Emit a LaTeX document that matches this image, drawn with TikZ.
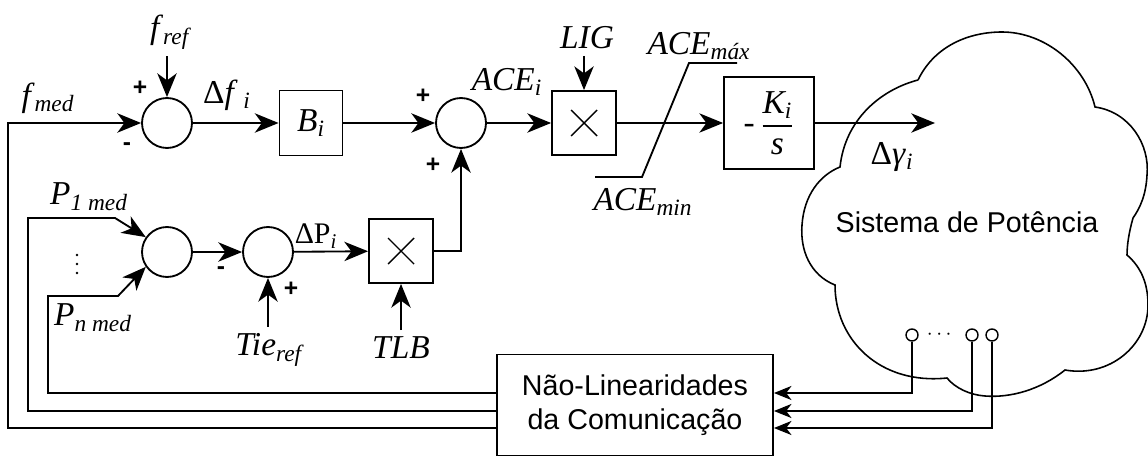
\documentclass[tikz,border=0pt]{standalone}
\usepackage{fontspec}
\setmainfont{Liberation Serif}
\setsansfont{Liberation Sans}
\usepackage{amsmath}
\usetikzlibrary{arrows.meta,positioning}

\newcommand{\sublab}[2]{\textit{#1}\textsubscript{\textit{#2}}}

\begin{document}
\begin{tikzpicture}[
  x=0.02cm, y=-0.02cm,
  line width=1.05pt,
  font=\fontsize{19}{22}\selectfont,
  sumnode/.style={draw, circle, minimum size=1cm, inner sep=0pt},
  blockbox/.style={draw, rectangle, minimum width=1.26cm, minimum height=1.3cm, inner sep=0pt},
  multbox/.style={draw, rectangle, minimum size=1.28cm, inner sep=0pt,
    path picture={\draw[line width=0.8pt] (path picture bounding box.center) +(-13,-13) -- +(13,13)
      (path picture bounding box.center) +(-13,13) -- +(13,-13);}},
  term/.style={draw, circle, fill=white, minimum size=0.24cm, inner sep=0pt, line width=0.8pt},
  sgn/.style={font=\sffamily\bfseries\fontsize{14}{14}\selectfont, inner sep=0pt},
  sansbig/.style={font=\sffamily\fontsize{16.3}{19.3}\selectfont, align=center},
  sig/.style={-{Stealth[length=13.5pt,width=11pt,inset=4pt]}},
  sigs/.style={-{Stealth[length=10pt,width=8pt,inset=3pt]}}
]
\useasboundingbox (0,0) rectangle (1148,456);

% blocos principais
\node[sumnode] (sum1) at (167,123) {};
\node[blockbox] (bias) at (311,123) {\sublab{B}{i}};
\node[sumnode] (sum2) at (461,123) {};
\node[multbox] (lig) at (584,123) {};
\node[blockbox, minimum width=1.8cm, minimum height=1.84cm] (integ) at (769,123)
  {-\,$\dfrac{\textit{K}_{\textit{i}}}{\textit{s}}$};
\node[sumnode] (sum3) at (167,252) {};
\node[sumnode] (sum4) at (268,252) {};
\node[multbox] (tlb) at (401,251) {};
\node[draw, sansbig, minimum width=5.52cm, minimum height=2.02cm] (nl) at (635,405)
  {Não-Linearidades\\da Comunicação};

% sistema de potencia
\draw[line width=0.9pt] (918,80) .. controls (935,45) and (970,32) .. (1002,32)
  .. controls (1045,32) and (1085,65) .. (1095,107)
  .. controls (1130,112) and (1150,145) .. (1147,175)
  .. controls (1146,195) and (1140,208) .. (1133,218)
  .. controls (1129,232) and (1127,245) .. (1127,255)
  .. controls (1142,268) and (1148,285) .. (1148,305)
  .. controls (1148,345) and (1110,378) .. (1065,370)
  .. controls (1040,390) and (1010,398) .. (985,396)
  .. controls (970,395) and (955,388) .. (947,378)
  .. controls (880,385) and (835,340) .. (835,285)
  .. controls (810,275) and (800,250) .. (802,225)
  .. controls (804,195) and (820,175) .. (840,167)
  .. controls (845,120) and (880,90) .. (918,80);
\node[sansbig] (sys) at (967,222) {Sistema de Potência};
\node[term] (t1) at (912,335) {};
\node[term] (t2) at (972,335) {};
\node[term] (t3) at (992,335) {};
\node[font=\fontsize{13}{13}\selectfont] (tdots) at (941,335) {$\cdots$};

% rotulos
\node (fref) at (171,32) {\sublab{f}{ref}};
\node (fmed) at (48,98) {\sublab{f}{med}};
\node (dfi) at (227,95) {Δ\textit{f}\,\textsubscript{\textit{i}}};
\node (acei) at (507,82) {\sublab{ACE}{i}};
\node (ligl) at (587,38) {\textit{LIG}};
\node (acemax) at (699,46) {\sublab{ACE}{máx}};
\node (acemin) at (643,202) {\sublab{ACE}{min}};
\node (dgl) at (892,157) {Δ\textit{γ}\textsubscript{\textit{i}}};
\node[font=\fontsize{17}{20}\selectfont] (dpi) at (316,236) {ΔP\textsubscript{\textit{i}}};
\node (p1) at (89,197) {\sublab{P}{1 med}};
\node (pn) at (93,318) {\sublab{P}{n med}};
\foreach \yy in {255,264,273} \fill (77,\yy) circle (1.4);
\node (tie) at (270,350) {\sublab{Tie}{ref}};
\node (tlbl) at (401,348) {\textit{TLB}};

\node[sgn] at (140,88) {+};
\node[sgn] at (127,147) {-};
\node[sgn] at (423,96) {+};
\node[sgn] at (433,165) {+};
\node[sgn] at (221,271) {-};
\node[sgn] at (291,289) {+};

% saturacao
\draw (595,177) -- (642,177) -- (689,63) -- (737,63);

% ligacoes
\draw[sig] (sum1 |- fref.south) -- (sum1);
\draw[sig] (sum1) -- (bias);
\draw[sig] (bias) -- (sum2);
\draw[sig] (sum2) -- (lig);
\draw[sig] (lig |- ligl.south) -- (lig);
\draw[sig] (lig) -- (integ);
\coordinate (dgam) at (935,123);
\draw[sig] (integ) -- (dgam);
\draw[sig] (sum3) -- (sum4);
\draw[sig] (sum4 |- tie.north) -- (sum4);
\draw[sig] (sum4) -- (tlb);
\draw[sig] (tlb |- tlbl.north) -- (tlb);
\draw[sig] (tlb.east) -| (sum2.south);

\coordinate (lv1) at (0,393);
\coordinate (lv2) at (0,411);
\coordinate (lv3) at (0,428);
\draw[sigs] (t1) |- (nl.east |- lv1);
\draw[sigs] (t2) |- (nl.east |- lv2);
\draw[sigs] (t3) |- (nl.east |- lv3);
\draw[sig] (nl.west |- lv1) -- (48,393) -- (48,296) -- (118,296) -- (sum3.215);
\draw[sig] (nl.west |- lv2) -- (28,411) -- (28,218) -- (115,218) -- (sum3.145);
\draw[sig] (nl.west |- lv3) -- (8,428) -- (8,123) -- (sum1);
\end{tikzpicture}
\end{document}
